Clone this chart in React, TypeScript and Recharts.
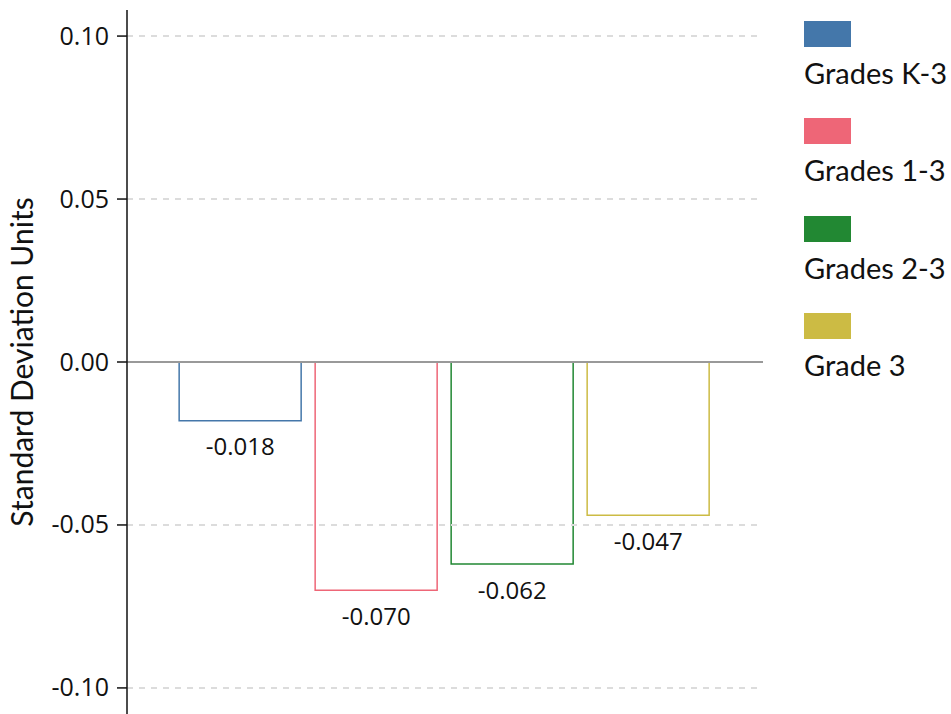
import React from "react";
import { BarChart, Bar, YAxis, XAxis, ReferenceLine, LabelList } from "recharts";

const categories = ["All"];
const seriesNames = ["Grades K-3", "Grades 1-3", "Grades 2-3", "Grade 3"];
const seriesKeys = ["k3", "g13", "g23", "g3"];
const seriesValues = [-0.018, -0.07, -0.062, -0.047];
const seriesColors = ["#4477AA", "#EE6677", "#228833", "#CCBB44"];
const yTicks = [-0.1, -0.05, 0, 0.05, 0.1];
const yAxisTitle = "Standard Deviation Units";

const data = categories.map((c) => {
  const row: Record<string, any> = { name: c };
  seriesKeys.forEach((k, i) => (row[k] = seriesValues[i]));
  return row;
});

const BelowLabel = (props: any) => {
  const { x, y, width, height, value } = props;
  const bottom = Math.max(y, y + height);
  return (
    <text
      x={x + width / 2}
      y={bottom + 34.5}
      textAnchor="middle"
      fontFamily="'Open Sans', sans-serif"
      fontSize={24}
      fill="#111"
    >
      {Number(value).toFixed(3)}
    </text>
  );
};

const YTick = (props: any) => {
  const { x, y, payload } = props;
  return (
    <text
      x={x}
      y={y + 8.5}
      textAnchor="end"
      fontFamily="'Open Sans', sans-serif"
      fontSize={25}
      fill="#111"
    >
      {Number(payload.value).toFixed(2)}
    </text>
  );
};

const AxisTitle = (props: any) => {
  const vb = props.viewBox || { x: 0, y: 10, width: 127, height: 704 };
  const cy = vb.y + vb.height / 2;
  const bx = 33;
  return (
    <text
      x={bx}
      y={cy}
      transform={`rotate(-90, ${bx}, ${cy})`}
      textAnchor="middle"
      fontFamily="Lato, sans-serif"
      fontSize={30}
      fill="#111"
    >
      {yAxisTitle}
    </text>
  );
};

const LegendBlock = () => (
  <div style={{ position: "absolute", left: 804, top: 20.7, fontFamily: "Lato, 'Open Sans', sans-serif" }}>
    {seriesNames.map((n, i) => (
      <div key={n} style={{ height: 97.5 }}>
        <div style={{ width: 47, height: 26, background: seriesColors[i] }} />
        <div style={{ fontSize: 29, color: "#111", marginTop: 11, lineHeight: "30px", whiteSpace: "nowrap" }}>{n}</div>
      </div>
    ))}
  </div>
);

export default function App() {
  return (
    <div style={{ position: "absolute", left: 0, top: 0, width: 951, height: 714, background: "#fff" }}>
      <BarChart
        width={951}
        height={714}
        data={data}
        margin={{ top: 10, right: 188, bottom: 0, left: 0 }}
        barCategoryGap="8.2%"
        barGap={14}
      >
        <XAxis dataKey="name" hide />
        <YAxis
          width={127}
          domain={[-0.108, 0.108]}
          ticks={yTicks}
          allowDataOverflow
          tick={YTick}
          tickSize={10}
          tickMargin={8}
          tickLine={{ stroke: "#111", strokeWidth: 1.5 }}
          axisLine={{ stroke: "#111", strokeWidth: 1.5 }}
          label={AxisTitle}
        />
        {yTicks.filter((t) => t !== 0).map((t) => (
          <ReferenceLine key={t} y={t} stroke="#dcdcdc" strokeWidth={2} strokeDasharray="6 6" />
        ))}
        <ReferenceLine y={0} stroke="#999" strokeWidth={2} />
        {seriesKeys.map((k, i) => (
          <Bar
            key={k}
            dataKey={k}
            name={seriesNames[i]}
            fill="#fff"
            stroke={seriesColors[i]}
            strokeWidth={1.5}
            isAnimationActive={false}
          >
            <LabelList dataKey={k} content={BelowLabel} />
          </Bar>
        ))}
      </BarChart>
      <LegendBlock />
    </div>
  );
}
